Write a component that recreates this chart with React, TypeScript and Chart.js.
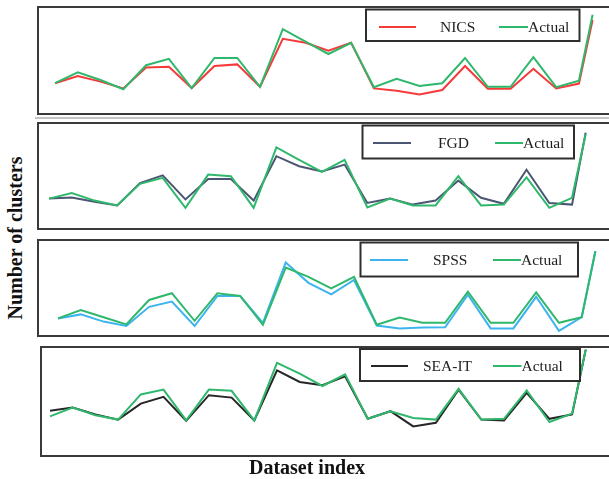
import { useEffect, useRef } from 'react';
import { Chart, registerables } from 'chart.js';

Chart.register(...registerables);

// Dataset index (x values). The last sample sits closer to its neighbour in the original figure.
const datasetIndex = [1, 2, 3, 4, 5, 6, 7, 8, 9, 10, 11, 12, 13, 14, 15, 16, 17, 18, 19, 20, 21, 22, 23, 24, 24.6];

// Panel 1: NICS vs actual
const nicsActual = [7.7, 10.4, 8.5, 6.2, 12.2, 13.8, 6.5, 14.0, 14.0, 6.8, 21.2, 18.1, 15.0, 17.8, 6.7, 8.8, 7.0, 7.7, 14.0, 6.8, 6.8, 14.2, 6.7, 8.3, 24.8];
const nics = [7.7, 9.5, 8.1, 6.4, 11.6, 11.8, 6.5, 12.0, 12.4, 6.8, 18.8, 17.8, 15.8, 17.8, 6.4, 5.8, 4.9, 6.0, 12.0, 6.3, 6.3, 11.3, 6.4, 7.6, 23.5];

// Panel 2: FGD vs actual
const fgdActual = [7.6, 9.0, 7.1, 5.9, 11.3, 12.8, 5.3, 13.6, 13.2, 5.3, 20.4, 17.3, 14.3, 17.3, 5.4, 7.6, 5.9, 5.9, 13.2, 5.9, 6.1, 12.9, 5.3, 7.8, 23.7];
const fgd = [7.6, 7.9, 6.8, 5.9, 11.5, 13.4, 7.4, 12.5, 12.5, 7.1, 18.2, 15.7, 14.4, 16.1, 6.5, 7.6, 6.1, 7.1, 12.1, 7.8, 6.3, 14.8, 6.5, 6.1, 24.1];

// Panel 3: SPSS vs actual
const spssActual = [4.4, 6.5, 4.7, 2.9, 9.0, 10.7, 3.8, 10.7, 10.0, 2.8, 17.1, 14.8, 11.9, 14.8, 2.8, 4.6, 3.3, 3.3, 11.1, 3.3, 3.3, 10.9, 3.3, 4.7, 21.2];
const spss = [4.4, 5.4, 3.6, 2.5, 7.3, 8.6, 2.5, 10.0, 10.0, 3.3, 18.4, 13.3, 10.4, 14.0, 2.6, 1.9, 2.1, 2.2, 10.3, 1.9, 1.9, 9.8, 1.3, 4.7, 21.2];

// Panel 4: SEA-IT vs actual
const seaActual = [9.9, 12.1, 10.2, 9.1, 15.4, 16.6, 8.9, 16.6, 16.3, 8.9, 23.3, 20.6, 17.5, 20.4, 9.3, 11.2, 9.5, 9.1, 16.8, 9.1, 9.3, 16.4, 8.5, 10.6, 26.6];
const seaIt = [11.3, 12.1, 10.4, 9.1, 13.1, 14.8, 8.8, 15.2, 14.6, 8.9, 21.4, 18.5, 17.7, 19.9, 9.3, 11.2, 7.4, 8.3, 16.6, 9.1, 8.9, 15.8, 9.3, 10.4, 26.6];

const methodLabels = ['NICS', 'FGD', 'SPSS', 'SEA-IT'];
const actualLabel = 'Actual';
const yAxisTitle = 'Number of clusters';
const xAxisTitle = 'Dataset index';

const ACTUAL_COLOR = '#2fb86c';
const FONT = "'Liberation Serif', 'Times New Roman', serif";

type Legend = { left: number; top: number; right: number; bottom: number; y: number; m1: number; m2: number; mText: number; a1: number; a2: number };
type PanelCfg = {
  label: string;
  color: string;
  method: number[];
  actual: number[];
  box: { left: number; top: number; height: number };
  x0: number;
  step: number;
  legend: Legend;
};

const panels: PanelCfg[] = [
  {
    label: methodLabels[0], color: '#f53a3a', method: nics, actual: nicsActual,
    box: { left: 38, top: 7, height: 107 }, x0: 55, step: 22.78,
    legend: { left: 366, top: 9.5, right: 579.5, bottom: 41, y: 27, m1: 379, m2: 416, mText: 440, a1: 499, a2: 528 },
  },
  {
    label: methodLabels[1], color: '#4b5772', method: fgd, actual: fgdActual,
    box: { left: 38, top: 123, height: 106 }, x0: 49, step: 22.74,
    legend: { left: 362.5, top: 125.5, right: 574, bottom: 158.5, y: 143, m1: 373, m2: 411, mText: 438, a1: 495, a2: 523 },
  },
  {
    label: methodLabels[2], color: '#3db4ee', method: spss, actual: spssActual,
    box: { left: 38, top: 240, height: 96 }, x0: 58, step: 22.77,
    legend: { left: 360.5, top: 242.5, right: 578, bottom: 276.5, y: 260, m1: 370, m2: 408, mText: 433, a1: 493, a2: 521 },
  },
  {
    label: methodLabels[3], color: '#262626', method: seaIt, actual: seaActual,
    box: { left: 41, top: 347, height: 109 }, x0: 50, step: 22.7,
    legend: { left: 360, top: 349, right: 580, bottom: 381, y: 366, m1: 371, m2: 408, mText: 423, a1: 493, a2: 521.5 },
  },
];

const PAD = 4;
const RIGHT_EDGE = 620;

function Panel({ cfg }: { cfg: PanelCfg }) {
  const ref = useRef<HTMLCanvasElement>(null);
  const cl = cfg.box.left - PAD;
  const ct = cfg.box.top - PAD;
  const cw = RIGHT_EDGE - cl;
  const ch = cfg.box.height + 2 * PAD;

  useEffect(() => {
    if (!ref.current) return;
    const areaW = cw - 2 * PAD;
    const xmin = datasetIndex[0] - (cfg.x0 - cfg.box.left) / cfg.step;
    const xmax = xmin + areaW / cfg.step;
    const ymax = cfg.box.height / 4;
    const lg = cfg.legend;

    const framePlugin = {
      id: 'frame',
      afterDatasetsDraw(chart: any) {
        const ctx = chart.ctx as CanvasRenderingContext2D;
        const a = chart.chartArea;
        ctx.save();
        ctx.strokeStyle = '#3a3a3a';
        ctx.lineWidth = 2;
        ctx.strokeRect(a.left, a.top, a.right - a.left + 10, a.bottom - a.top);
        // legend box
        const L = lg.left - cl, T = lg.top - ct, R = lg.right - cl, B = lg.bottom - ct;
        ctx.fillStyle = '#ffffff';
        ctx.fillRect(L, T, R - L, B - T);
        ctx.strokeStyle = '#2e2e2e';
        ctx.lineWidth = 2;
        ctx.strokeRect(L, T, R - L, B - T);
        const y = lg.y - ct;
        ctx.lineWidth = 2;
        ctx.strokeStyle = cfg.color;
        ctx.beginPath();
        ctx.moveTo(lg.m1 - cl, y);
        ctx.lineTo(lg.m2 - cl, y);
        ctx.stroke();
        ctx.strokeStyle = ACTUAL_COLOR;
        ctx.beginPath();
        ctx.moveTo(lg.a1 - cl, y);
        ctx.lineTo(lg.a2 - cl, y);
        ctx.stroke();
        ctx.fillStyle = '#1e1e1e';
        ctx.font = `15.5px ${FONT}`;
        ctx.textBaseline = 'middle';
        ctx.textAlign = 'left';
        ctx.fillText(cfg.label, lg.mText - cl, y + 1);
        ctx.fillText(actualLabel, lg.a2 - cl, y + 1);
        ctx.restore();
      },
    };

    const chart = new Chart(ref.current, {
      type: 'line',
      data: {
        datasets: [
          {
            label: actualLabel,
            data: datasetIndex.map((x, i) => ({ x, y: cfg.actual[i] })),
            borderColor: ACTUAL_COLOR,
            borderWidth: 2,
            pointRadius: 0,
            tension: 0,
            clip: false as any,
          },
          {
            label: cfg.label,
            data: datasetIndex.map((x, i) => ({ x, y: cfg.method[i] })),
            borderColor: cfg.color,
            borderWidth: 2,
            pointRadius: 0,
            tension: 0,
            clip: false as any,
          },
        ],
      },
      options: {
        animation: false,
        responsive: false,
        maintainAspectRatio: false,
        devicePixelRatio: 1,
        layout: { padding: PAD },
        plugins: { legend: { display: false }, tooltip: { enabled: false }, title: { display: false } },
        scales: {
          x: { type: 'linear', display: false, min: xmin, max: xmax },
          y: { type: 'linear', display: false, min: 0, max: ymax },
        },
      },
      plugins: [framePlugin],
    });
    return () => chart.destroy();
  }, [cfg]);

  return (
    <canvas
      ref={ref}
      width={cw}
      height={ch}
      style={{ position: 'absolute', left: cl, top: ct, width: cw, height: ch }}
    />
  );
}

export default function App() {
  return (
    <div style={{ position: 'absolute', left: 0, top: 0, width: 609, height: 479, overflow: 'hidden', background: '#fff' }}>
      <div style={{ position: 'absolute', left: 35, top: 116.5, width: 600, height: 2, background: '#c4c4c4' }} />
      {panels.map((p) => (
        <Panel key={p.label} cfg={p} />
      ))}
      <div
        style={{
          position: 'absolute', left: 15, top: 238, transform: 'translate(-50%, -50%) rotate(-90deg)',
          fontFamily: FONT, fontWeight: 'bold', fontSize: 20, whiteSpace: 'nowrap', color: '#111', lineHeight: 1,
        }}
      >
        {yAxisTitle}
      </div>
      <div
        style={{
          position: 'absolute', left: 307, top: 467, transform: 'translate(-50%, -50%)',
          fontFamily: FONT, fontWeight: 'bold', fontSize: 20, whiteSpace: 'nowrap', color: '#111', lineHeight: 1,
        }}
      >
        {xAxisTitle}
      </div>
    </div>
  );
}
